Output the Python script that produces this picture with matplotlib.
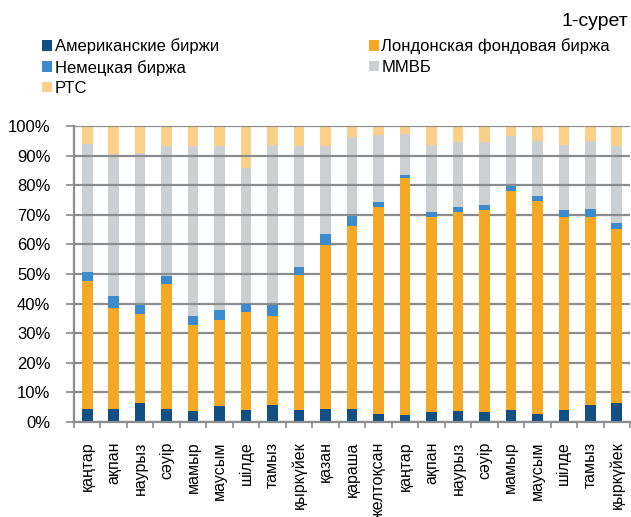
import matplotlib
matplotlib.use("Agg")
import matplotlib.pyplot as plt
from matplotlib.patches import Patch
import numpy as np

plt.rcParams['font.family'] = ['Liberation Sans', 'DejaVu Sans']

months = ["қаңтар", "ақпан", "наурыз", "сәуір", "мамыр", "маусым", "шілде",
          "тамыз", "қыркүйек", "қазан", "қараша", "желтоқсан", "қаңтар",
          "ақпан", "наурыз", "сәуір", "мамыр", "маусым", "шілде", "тамыз",
          "қыркүйек"]

american = [4.5, 4.3, 6.4, 4.3, 3.8, 5.3, 3.9, 5.9, 4.1, 4.3, 4.5, 2.8, 2.5,
            3.5, 3.7, 3.4, 3.9, 2.7, 3.9, 5.9, 6.3]
london = [43.0, 34.1, 30.1, 42.4, 28.9, 29.1, 33.2, 29.8, 45.5, 55.5, 61.7,
          69.8, 79.9, 65.9, 67.2, 68.1, 74.3, 71.9, 65.4, 63.5, 59.0]
german = [3.1, 4.1, 3.1, 2.7, 3.0, 3.3, 2.9, 3.8, 2.7, 3.7, 3.5, 1.7, 1.0,
          1.7, 1.9, 1.9, 1.5, 1.8, 2.4, 2.5, 1.8]
micex = [43.2, 48.1, 51.4, 43.7, 57.6, 55.6, 45.9, 54.2, 40.8, 29.6, 26.6,
         22.8, 14.0, 22.6, 21.9, 21.1, 16.9, 18.4, 21.8, 22.9, 26.2]
rts = [6.2, 9.4, 9.0, 6.9, 6.7, 6.7, 14.1, 6.3, 6.9, 6.9, 3.7, 2.9, 2.6,
       6.3, 5.3, 5.5, 3.4, 5.2, 6.5, 5.2, 6.7]

series = [
    ("Американские биржи", american, "#124F82", 3),
    ("Лондонская фондовая биржа", london, "#F5A823", 3),
    ("Немецкая биржа", german, "#3D8BCD", 3),
    ("ММВБ", micex, "#CDD0D3", 1),
    ("РТС", rts, "#FDD089", 1),
]

fig = plt.figure(figsize=(6.31, 5.17), dpi=100)
ax = fig.add_axes([74 / 631, 1 - 422 / 517, (630 - 74) / 631, (422 - 126) / 517])

x = np.arange(len(months))
bottom = np.zeros(len(months))
handles = {}
for name, vals, color, z in series:
    v = np.array(vals)
    ax.bar(x, v, bottom=bottom, width=0.4, color=color, zorder=z,
           edgecolor="none")
    bottom += v
    handles[name] = Patch(facecolor=color, edgecolor="none")

ax.set_xlim(-0.5, len(months) - 0.5)
ax.set_ylim(0, 100)
ax.set_yticks(np.arange(0, 101, 10))
ax.set_yticklabels([f"{t}%" for t in range(0, 101, 10)], fontsize=12)
ax.yaxis.grid(True, color="#8A8C8E", linewidth=1.6)
ax.set_axisbelow(False)
for gl in ax.get_ygridlines():
    gl.set_zorder(2)

ax.set_xticks(x)
ax.set_xticklabels(months, rotation=90, fontsize=11.5, va="top")
ax.tick_params(axis="x", which="major", length=0, pad=14)
ax.set_xticks(np.arange(-0.5, len(months)), minor=True)
ax.tick_params(axis="x", which="minor", length=4, width=1.2, color="#8A8C8E")
ax.tick_params(axis="y", length=6, width=1.2, color="#8A8C8E", pad=11)

for side in ("top", "right"):
    ax.spines[side].set_visible(False)
for side in ("left", "bottom"):
    ax.spines[side].set_color("#8A8C8E")
    ax.spines[side].set_linewidth(1.6)
    ax.spines[side].set_zorder(4)

order = ["Американские биржи", "Немецкая биржа", "РТС",
         "Лондонская фондовая биржа", "ММВБ"]
fig.legend([handles[n] for n in order], order, ncol=2, frameon=False,
           loc="upper left", bbox_to_anchor=(34 / 631, 1 - 30 / 517),
           fontsize=12, handlelength=0.6, handleheight=0.6,
           handletextpad=0.15, columnspacing=9.0, labelspacing=0.33,
           borderpad=0)

fig.text(628 / 631, 1 - 22 / 517, "1-сурет", ha="right", va="center",
         fontsize=14)

fig.savefig("out.png", dpi=100)
